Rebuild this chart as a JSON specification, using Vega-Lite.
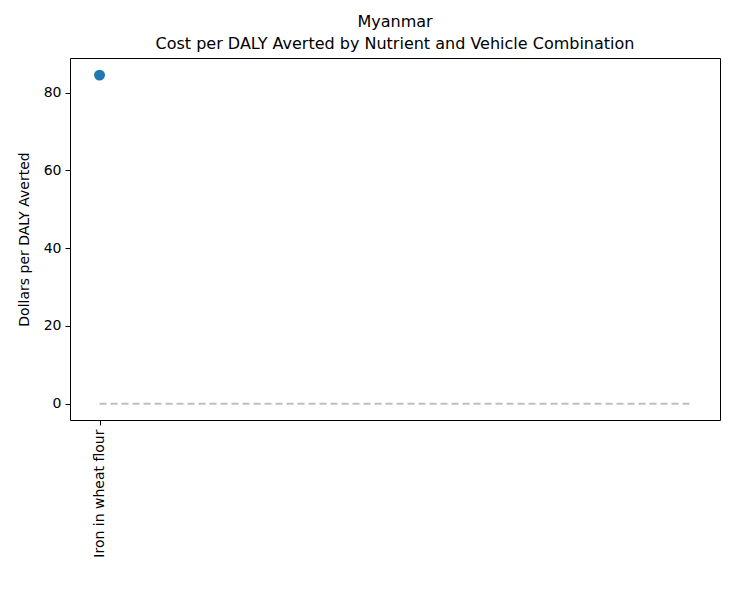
{
"$schema":"https://vega.github.io/schema/vega-lite/v6.json",
"autosize":{"type":"none"},
"padding":{"left":70,"top":58,"right":12,"bottom":176},
"width":650,"height":362,
"background":"white",
"config":{"font":"DejaVu Sans","view":{"stroke":"black","strokeWidth":1},"axis":{"grid":false,"domain":false,"tickColor":"black","labelColor":"black","labelFont":"DejaVu Sans","labelFontSize":14,"titleFont":"DejaVu Sans","titleFontSize":14,"titleFontWeight":"normal","tickSize":5,"labelPadding":4}},
"title":{"text":["Myanmar","Cost per DALY Averted by Nutrient and Vehicle Combination"],"fontSize":16,"fontWeight":"normal","font":"DejaVu Sans","offset":6,"lineHeight":22},
"datasets":{"pts":[{"x":0,"label":"Iron in wheat flour","cost":84.5}],"line":[{"x":0,"y":0},{"x":1,"y":0}]},
"layer":[
{"data":{"name":"line"},"mark":{"type":"line","strokeDash":[7,4],"color":"#bfbfbf","strokeWidth":2},
"encoding":{"x":{"field":"x","type":"quantitative","scale":{"domain":[-0.05,1.05],"nice":false,"zero":false},"axis":{"values":[0],"labelExpr":"'Iron in wheat flour'","labelAngle":-90,"title":null,"labelAlign":"right","labelBaseline":"middle"}},
"y":{"field":"y","type":"quantitative","scale":{"domain":[-4.2,88.9],"nice":false,"zero":false},"axis":{"values":[0,20,40,60,80],"title":"Dollars per DALY Averted","titlePadding":12}}}},
{"data":{"name":"pts"},"mark":{"type":"circle","size":120,"color":"#1f77b4","opacity":1},
"encoding":{"x":{"field":"x","type":"quantitative"},"y":{"field":"cost","type":"quantitative"}}}
]
}
